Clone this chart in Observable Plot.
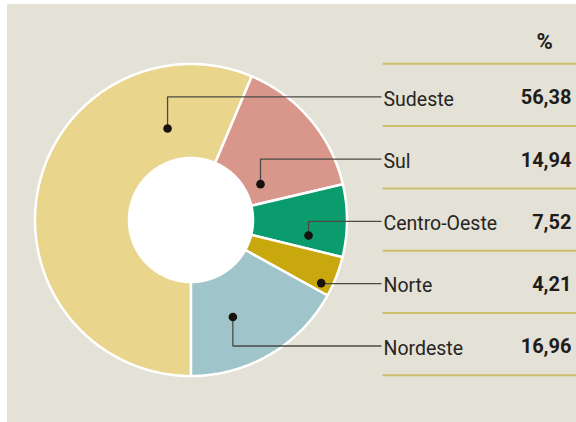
<!DOCTYPE html>
<html>
<head>
<meta charset="utf-8">
<script src="https://cdn.jsdelivr.net/npm/d3@7"></script>
<script src="https://cdn.jsdelivr.net/npm/@observablehq/plot@0.6"></script>
<style>
  html, body { margin: 0; padding: 0; background: #ffffff; }
  #chart { position: absolute; left: 7px; top: 4px; }
</style>
</head>
<body>
<div id="chart"></div>
<script>
// ---- data ----
const regions = ["Sudeste", "Sul", "Centro-Oeste", "Norte", "Nordeste"];
const shares = [56.38, 14.94, 7.52, 4.21, 16.96];
const valueLabels = ["56,38", "14,94", "7,52", "4,21", "16,96"];
const colors = ["#e9d58c", "#d9968a", "#0a9c6c", "#c9a80e", "#9fc4c9"];
const header = "%";

// ---- layout (annotation anchors inside each slice: fraction of span, radius) ----
const dotFrac = [0.815, 0.73, 0.76, 0.79, 0.62];
const dotRad = [95, 78, 118, 144, 105];

const cx = 191, cy = 220, R = 156, R0 = 62;
const rowTop = 63.3, rowStep = 62.3;
const labelX = 383, valueX = 571, leaderEnd = 380.5;

const total = d3.sum(shares);
const startDeg = 180;
const rad = d => d * Math.PI / 180;
const px = (deg, r) => cx + r * Math.sin(rad(deg));
const py = (deg, r) => cy - r * Math.cos(rad(deg));

// slices as annular sectors
let acc = startDeg;
const slices = regions.map((name, i) => {
  const a0 = acc, a1 = acc + shares[i] / total * 360;
  acc = a1;
  return {name, i, a0, a1};
});
const arcPts = [];
for (const s of slices) {
  const n = Math.max(2, Math.ceil((s.a1 - s.a0) / 0.5));
  for (let k = 0; k <= n; k++) {
    const a = s.a0 + (s.a1 - s.a0) * k / n;
    arcPts.push({name: s.name, x1: px(a, R), y1: py(a, R), x2: px(a, R0), y2: py(a, R0)});
  }
}

const rowY = i => rowTop + rowStep * (i + 0.53);
const dots = slices.map((s, i) => {
  const a = s.a0 + (s.a1 - s.a0) * dotFrac[i];
  return {name: s.name, x: px(a, dotRad[i]), y: py(a, dotRad[i]), ry: rowY(i)};
});
const leaders = dots.flatMap(d => [
  {name: d.name, x: d.x, y: d.y},
  {name: d.name, x: d.x, y: d.ry},
  {name: d.name, x: leaderEnd, y: d.ry}
]);
const rules = d3.range(regions.length + 1).map(k => ({y: rowTop + rowStep * k}));
const rows = regions.map((name, i) => ({name, value: valueLabels[i], y: rowY(i)}));

const chart = Plot.plot({
  width: 569,
  height: 418,
  margin: 0,
  x: {domain: [7, 576], range: [0, 569], axis: null},
  y: {domain: [4, 422], range: [0, 418], axis: null},
  color: {domain: regions, range: colors},
  style: {background: "#e4e1d6", fontFamily: "Roboto, sans-serif"},
  marks: [
    Plot.dot([{x: cx, y: cy}], {x: "x", y: "y", r: R0 + 1, fill: "#ffffff", stroke: "none"}),
    Plot.area(arcPts, {x1: "x1", y1: "y1", x2: "x2", y2: "y2", z: "name", fill: "name",
      stroke: "#ffffff", strokeWidth: 2.5, strokeLinejoin: "round", curve: "linear"}),
    Plot.ruleY(rules, {y: "y", x1: 382.5, x2: 576, stroke: "#cbbf6c", strokeWidth: 2}),
    Plot.line(leaders, {x: "x", y: "y", z: "name", stroke: "#4b4a46", strokeWidth: 1.3, curve: "linear"}),
    Plot.dot(dots, {x: "x", y: "y", r: 4.3, fill: "#17120e", stroke: "none"}),
    Plot.text(rows, {x: labelX, y: "y", text: "name", textAnchor: "start", fontSize: 19.5,
      fill: "#262523", dy: 2.5}),
    Plot.text(rows, {x: valueX, y: "y", text: "value", textAnchor: "end", fontSize: 20,
      fontWeight: "bold", fill: "#1e1d1b", dy: 1}),
    Plot.text([header], {x: 544, y: 41.5, text: d => d, fontSize: 22, fontWeight: "bold", fill: "#1e1d1b"})
  ]
});
document.getElementById("chart").appendChild(chart);
</script>
</body>
</html>
